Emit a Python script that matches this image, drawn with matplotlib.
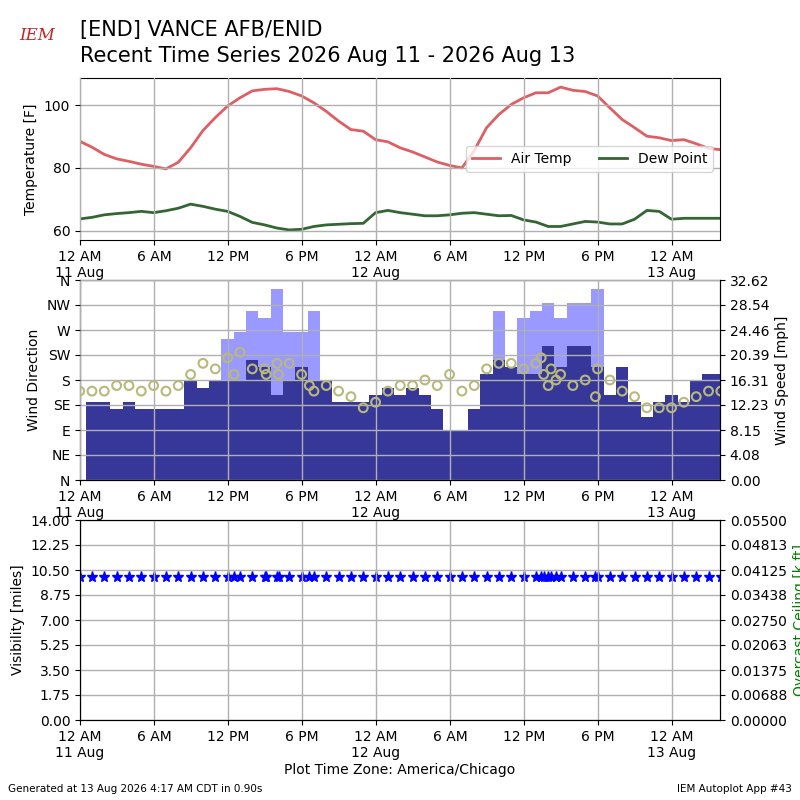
import numpy as np
import matplotlib
matplotlib.use('Agg')
import matplotlib.pyplot as plt

# obs index k -> hours after 12 AM 11 Aug, obs near hh:58
obs_k = np.arange(-1, 52)
obs_hr = obs_k + 0.97

temp_f = [88.5,
          86.6, 84.3, 82.9, 82.1, 81.2, 80.5, 79.7, 81.8, 86.4, 91.9, 96.0, 99.7, 102.3,
          104.5, 105.0, 105.2, 104.3, 102.9, 100.7, 98.0, 94.9, 92.2, 91.7, 89.0, 88.3, 86.4,
          85.1, 83.5, 81.9, 80.8, 80.0, 85.5, 92.8, 97.0, 100.2, 102.3, 103.9, 103.9, 105.7,
          104.7, 104.3, 102.9, 99.1, 95.4, 92.8, 90.1, 89.6, 88.7, 89.0, 87.7, 86.2, 85.8]
dewp_f = [63.8,
          64.3, 65.1, 65.5, 65.8, 66.2, 65.8, 66.4, 67.2, 68.5, 67.8, 66.9, 66.2, 64.6,
          62.7, 61.9, 60.9, 60.3, 60.5, 61.4, 61.9, 62.1, 62.3, 62.4, 65.8, 66.5, 65.8,
          65.3, 64.8, 64.8, 65.1, 65.6, 65.8, 65.3, 64.8, 64.9, 63.5, 62.8, 61.4, 61.4,
          62.2, 63.0, 62.8, 62.2, 62.2, 63.7, 66.5, 66.2, 63.7, 64.0, 64.0, 64.0, 64.0]
wind_dir = [160,
            160, 160, 170, 170, 160, 170, 160, 170, 190, 210, 200, 220, 230,
            200, 200, 210, 210, 190, 160, 170, 160, 150, 130, 140, 160, 170,
            170, 180, 170, 190, 160, 170, 200, 210, 210, 200, 210, 170, 190,
            170, 180, 200, 180, 160, 150, 130, 130, 130, 140, 150, 160, 160]
wind_mph = [np.nan,
            12.7, 12.7, 11.5, 12.7, 11.5, 11.5, 11.5, 11.5, 16.1, 15.0, 16.1, 16.1, 16.1,
            19.6, 18.4, 13.8, 16.1, 18.4, 16.1, 16.1, 12.7, 12.7, 12.7, 13.8, 15.0, 13.8,
            15.0, 13.8, 11.5, 8.1, 8.1, 11.5, 17.3, 19.6, 18.4, 17.3, 17.3, 21.9, 18.4,
            21.9, 21.9, 18.4, 13.8, 18.4, 12.7, 10.3, 12.7, 13.8, 12.7, 16.1, 17.3, 17.3]
gust_mph = [np.nan,
            np.nan, np.nan, np.nan, np.nan, np.nan, np.nan, np.nan, np.nan, np.nan, np.nan, np.nan, 23.0, 24.2,
            27.6, 26.5, 31.1, 24.2, 24.2, 27.6, np.nan, np.nan, np.nan, np.nan, np.nan, np.nan, np.nan,
            np.nan, np.nan, np.nan, np.nan, np.nan, np.nan, np.nan, 27.6, np.nan, 26.5, 27.6, 28.8, 26.5,
            28.8, 28.8, 31.1, np.nan, np.nan, np.nan, np.nan, np.nan, np.nan, np.nan, np.nan, np.nan, np.nan]
vis_mi = [10.0] * len(obs_k)

# special observations (direction only)
spec_hr = [12.5, 15.1, 16.1, 18.6, 37.4, 37.6, 38.2, 38.6, 41.8]
spec_dir = [190, 190, 190, 170, 220, 190, 200, 180, 150]

xticks = [0, 6, 12, 18, 24, 30, 36, 42, 48]
xlabels = ['12 AM\n11 Aug', '6 AM', '12 PM', '6 PM', '12 AM\n12 Aug', '6 AM', '12 PM', '6 PM', '12 AM\n13 Aug']

fig = plt.figure(figsize=(8, 8), dpi=100)

fig.text(0.1, 0.962, '[END] VANCE AFB/ENID', fontsize=15, va='center')
fig.text(0.1, 0.93, 'Recent Time Series 2026 Aug 11 - 2026 Aug 13', fontsize=15, va='center')
fig.text(0.047, 0.955, 'IEM', fontsize=12, color='#cc2222', style='italic', family='serif',
         ha='center', va='center')
fig.text(0.01, 0.01, 'Generated at 13 Aug 2026 4:17 AM CDT in 0.90s', fontsize=7.5)
fig.text(0.99, 0.01, 'IEM Autoplot App #43', fontsize=7.5, ha='right')
fig.text(0.5, 0.033, 'Plot Time Zone: America/Chicago', fontsize=10, ha='center')

xmax = 51.9

# 温度
ax1 = fig.add_axes([0.1, 0.70, 0.8, 0.2025])
ax1.plot(obs_hr, temp_f, color='#de5f63', lw=2, label='Air Temp')
ax1.plot(obs_hr, dewp_f, color='#336633', lw=2, label='Dew Point')
ax1.set_ylim(57.1, 108.6)
ax1.set_yticks([60, 80, 100])
ax1.set_ylabel('Temperature [F]')
ax1.legend(ncol=2, loc='center right', bbox_to_anchor=(1.0, 0.5))

# 风
ax2 = fig.add_axes([0.1, 0.40, 0.8, 0.25])
ax2b = ax2.twinx()
ax2b.bar(obs_hr, gust_mph, width=1.0, color='#9999ff', zorder=1)
ax2b.bar(obs_hr, wind_mph, width=1.0, color='#373799', zorder=2)
ax2b.set_ylim(0, 32.62)
ax2b.set_yticks(np.linspace(0, 32.62, 9))
ax2b.set_yticklabels(['%.2f' % v for v in np.linspace(0, 32.62, 9)])
ax2b.set_ylabel('Wind Speed [mph]')
ax2.set_zorder(ax2b.get_zorder() + 1)
ax2.patch.set_visible(False)
ax2.scatter(obs_hr, wind_dir, s=40, facecolors='none', edgecolors='#b8b97a', lw=1.5, zorder=5)
ax2.scatter(spec_hr, spec_dir, s=40, facecolors='none', edgecolors='#b8b97a', lw=1.5, zorder=5)
ax2.set_ylim(0, 360)
ax2.set_yticks(range(0, 361, 45))
ax2.set_yticklabels(['N', 'NE', 'E', 'SE', 'S', 'SW', 'W', 'NW', 'N'])
ax2.set_ylabel('Wind Direction')

# 能见度
ax3 = fig.add_axes([0.1, 0.10, 0.8, 0.25])
ax3.plot(obs_hr, vis_mi, '*', color='blue', ms=8, ls='none')
ax3.plot(spec_hr, [10.0] * len(spec_hr), '*', color='blue', ms=8, ls='none')
ax3.set_ylim(0, 14)
ax3.set_yticks(np.arange(0, 14.01, 1.75))
ax3.set_yticklabels(['%.2f' % v for v in np.arange(0, 14.01, 1.75)])
ax3.set_ylabel('Visibility [miles]')
ax3b = ax3.twinx()
ax3b.set_ylim(0, 0.055)
ax3b.set_yticks(np.linspace(0, 0.055, 9))
ax3b.set_yticklabels(['%.5f' % v for v in np.linspace(0, 0.055, 9)])
ax3b.set_ylabel('Overcast Ceiling [k ft]', color='green')

for ax in (ax1, ax2, ax3):
    ax.set_xlim(0, xmax)
    ax.set_xticks(xticks)
    ax.set_xticklabels(xlabels)
    ax.grid(True, color='#b0b0b0', lw=1)
    ax.set_axisbelow(False)

plt.savefig('out.png')
